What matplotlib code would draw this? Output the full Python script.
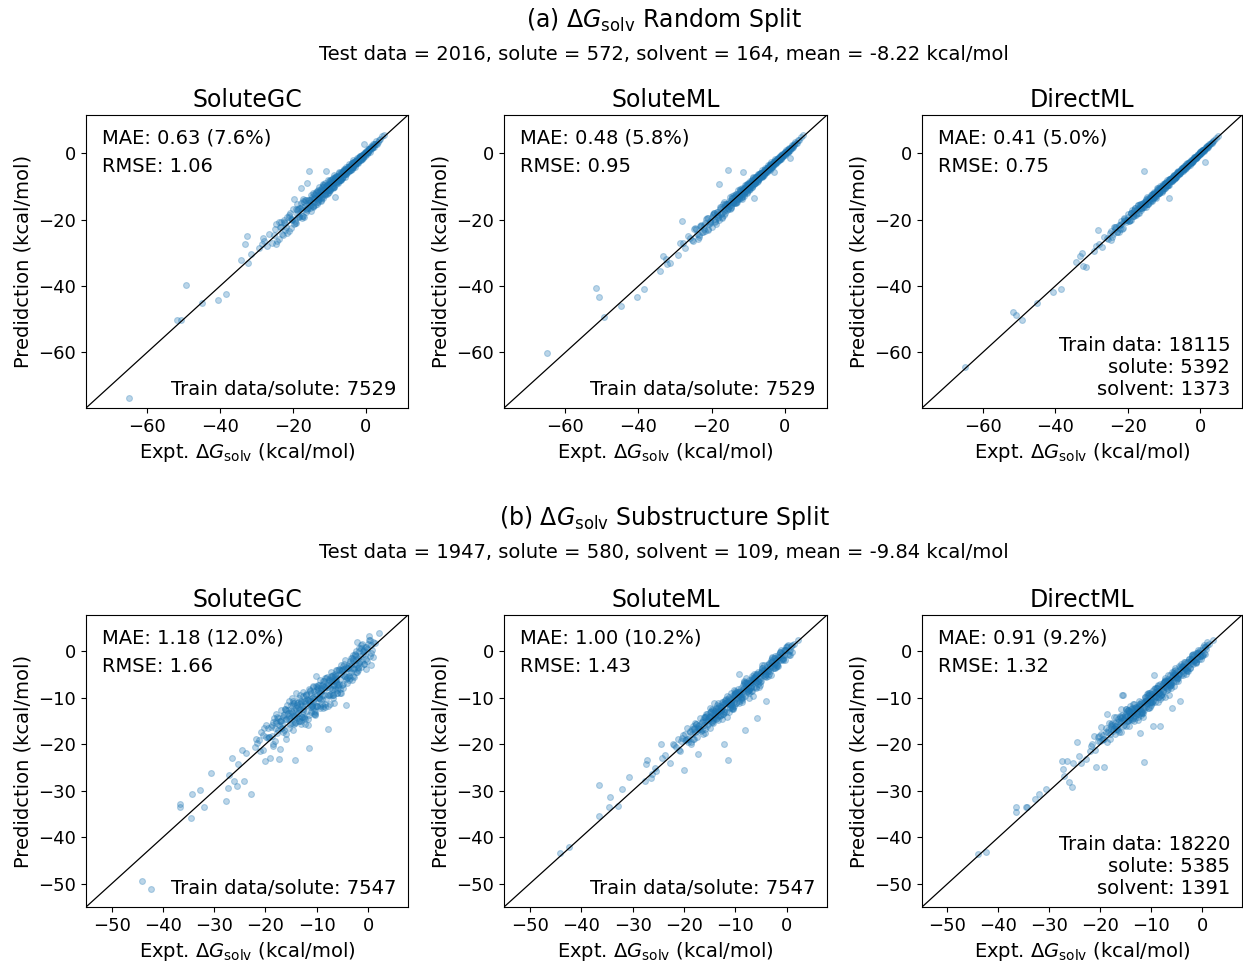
import matplotlib
matplotlib.use("Agg")
import matplotlib.pyplot as plt
from matplotlib.ticker import MultipleLocator

# ---- (a) random split: experimental values shared by the three models ----
expt_random = [
    -64.9, -51.7, -50.8, -49.3, -44.9, -40.5, -38.4, -34.2, -33.2, -32.6, -32.3, -31.4, -29.2, -28.6, -28.2,
    -27.9, -27.2, -26.5, -25.8, -25.3, -24.6, -23.9, -23.2, -22.5, -21.9, -21.1, -20.4,
    -19.8, -19.4, -19.0, -18.6, -18.3, -17.9, -17.5, -17.2, -16.9, -16.5, -16.2, -15.9, -15.6, -15.4, -15.2, -15.1,
    -14.8, -14.6, -14.3, -14.1, -13.9, -13.7, -13.4, -13.2, -13.0, -12.8, -12.6, -12.4, -12.2, -12.0, -11.8, -11.6,
    -11.4, -11.2, -11.0, -10.9, -10.7, -10.5, -10.4, -10.3, -10.1, -10.0,
    -9.9, -9.7, -9.6, -9.4, -9.3, -9.1, -9.0, -8.8, -8.7, -8.5, -8.4, -8.2, -8.1, -7.9, -7.8, -7.6, -7.5, -7.3,
    -7.2, -7.0, -6.9, -6.7, -6.6, -6.4, -6.3, -6.1, -6.0, -5.8, -5.7, -5.6, -5.4, -5.3, -5.2, -5.1,
    -4.9, -4.8, -4.6, -4.5, -4.4, -4.2, -4.1, -4.0, -3.8, -3.7, -3.6, -3.4, -3.3, -3.2, -3.0, -2.9, -2.8,
    -2.6, -2.5, -2.3, -2.2, -2.0, -1.9, -1.7, -1.6, -1.4, -1.3, -1.1, -0.9, -0.8, -0.6, -0.4, -0.3, -0.1,
    0.1, 0.3, 0.5, 0.7, 0.9, 1.1, 1.3, 1.5, 1.8, 2.0, 2.3, 2.6, 2.9, 3.2, 3.6, 4.0, 4.5, 5.1,
    -23.4, -22.8, -22.1, -21.5, -20.9, -20.3, -19.7, -19.1, -18.6, -18.1,
    -17.6, -17.1, -16.7, -16.3, -15.8, -15.3, -14.9, -14.5, -14.2, -13.8,
    -13.5, -13.1, -12.9, -12.5, -12.3, -11.9, -11.7, -11.3, -11.1, -10.8,
    -10.6, -10.2, -9.95, -9.8, -9.5, -9.2, -8.95, -8.6, -8.35, -8.05,
    -7.85, -7.65, -7.4, -7.15, -6.95, -6.75, -6.5, -6.25, -6.05, -5.9,
    -5.65, -5.45, -5.25, -5.0, -4.85, -4.65, -4.35, -4.15, -3.95, -3.75,
    -3.55, -3.35, -3.15, -2.95, -2.75, -2.55, -2.35, -2.15, -1.95, -1.75,
    -1.55, -1.35, -1.15, -0.95, -0.75, -0.55, -0.35, -0.15, 0.0, 0.2,
    0.4, 0.6, 0.8, 1.0, 1.2, 1.4, 1.7, 1.9, 2.1, 2.4,
    -13.0, -12.0, -11.0, -10.5, -9.7, -9.0, -8.8, -8.2, -7.7, -7.1,
    -6.6, -6.2, -5.8, -5.3, -4.7, -4.3, -3.9, -3.4, -3.0, -2.5,
    -2.0, -1.6, -1.2, -0.7, -0.2, 0.3, 0.8, 1.6, 2.7, 3.3,
    -25.0, -24.3, -23.7, -23.0, -22.4, -21.7, -21.2, -20.6, -20.0, -19.5,
    -19.0, -18.4, -17.9, -17.4, -16.9, -16.4, -16.0, -15.5, -15.0, -14.6,
    -14.2, -13.8, -13.4, -13.0, -12.6, -12.2, -11.8, -11.4, -11.0, -10.6,
    -10.2, -9.8, -9.4, -9.0, -8.6, -8.2, -7.8, -7.4, -7.0, -6.6,
    -24.7, -23.5, -22.2, -21.0, -20.3, -19.2, -18.2, -17.2, -16.2, -15.2,
    -14.4, -13.6, -12.8, -12.0, -11.2, -10.4, -9.6, -8.8, -8.0, -7.2,
    -6.3, -5.5, -4.7, -3.9, -3.1, -2.3, -1.5, -0.7, 0.1, 0.9,
    -18.8, -17.6, -16.6, -15.8, -14.8, -13.2, -11.6, -10.0, -8.4, -6.8,
]
pred_random_gc = [
    -73.9, -50.3, -50.3, -39.8, -45.1, -44.2, -42.5, -32.2, -27.4, -24.9, -33.0, -30.4, -28.5, -27.4, -25.4,
    -26.4, -28.0, -24.4, -27.0, -24.7, -21.4, -25.8, -22.2, -20.0, -22.3, -19.3, -22.6,
    -13.8, -20.5, -18.2, -16.7, -19.0, -10.3, -17.1, -18.8, -14.6, -16.8, -9.0, -14.8, -5.4, -16.6, -14.6, -15.6,
    -13.8, -16.0, -12.1, -14.7, -13.6, -12.0, -15.4, -12.4, -13.9, -10.2, -12.5, -13.5, -10.8, -12.3, -10.9, -13.3,
    -9.4, -10.7, -11.8, -5.2, -9.5, -11.8, -10.0, -7.9, -10.6, -9.3,
    -8.8, -10.9, -9.2, -7.6, -9.9, -8.2, -10.5, -8.6, -6.6, -13.0, -7.7, -9.1, -6.8, -8.2, -7.0, -9.0, -7.0, -5.7,
    -7.9, -6.9, -8.0, -5.7, -7.0, -5.8, -7.1, -4.7, -6.2, -5.5, -7.0, -4.8, -5.9, -4.2, -5.3, -4.6,
    -4.1, -5.7, -4.3, -3.3, -4.9, -3.6, -5.1, -3.8, -2.9, -4.1, -2.1, -4.1, -2.9, -3.4, -2.3, -4.0, -2.3,
    -2.9, -1.5, -2.9, -1.9, -2.8, -1.3, -1.9, -0.7, -1.9, -1.1, -1.8, -0.5, -1.1, 0.0, 2.8, -0.7, 0.2,
    0.7, -0.1, 1.4, 0.5, 1.4, 0.5, 1.6, 2.3, 1.5, 2.7, 1.8, 3.0, 3.8, 3.0, 4.1, 4.3, 5.3, 5.7,
    -20.8, -24.6, -20.9, -23.9, -17.9, -19.9, -21.2, -16.9, -19.2, -16.4,
    -19.6, -14.2, -15.9, -17.6, -13.9, -15.7, -12.4, -16.2, -13.3, -12.4,
    -14.6, -11.1, -13.2, -11.3, -14.1, -11.3, -10.1, -12.2, -8.8, -11.3,
    -9.6, -11.6, -9.25, -8.0, -10.3, -8.9, -10.15, -7.3, -7.85, -8.75,
    -6.95, -8.65, -7.0, -6.05, -7.55, -6.55, -7.4, -5.45, -4.85, -6.2,
    -5.05, -6.25, -4.95, -4.0, -5.35, -4.25, -5.05, -3.55, -4.15, -2.85,
    -4.15, -3.05, -2.45, -3.35, -2.25, -2.85, -1.55, -2.65, -1.75, -1.15,
    -1.95, -0.85, -1.35, -0.55, -1.35, -0.25, -0.25, -0.45, 0.5, 0.0,
    0.8, 0.5, 1.4, 1.2, 0.9, 1.9, 1.8, 2.3, 1.9, 2.7,
    -11.5, -13.1, -10.2, -11.1, -8.5, -9.9, -8.3, -7.2, -8.4, -6.7,
    -7.4, -5.3, -6.1, -4.6, -5.2, -3.7, -4.3, -2.6, -3.2, -2.0,
    -2.3, -1.2, -1.7, -0.4, 0.0, 0.1, 1.2, 1.7, 3.0, 3.5,
    -22.8, -26.3, -20.6, -24.4, -20.7, -19.1, -23.5, -19.7, -16.7, -21.1,
    -17.0, -19.3, -14.9, -16.3, -19.1, -14.0, -17.1, -13.9, -17.5, -11.8,
    -13.5, -15.6, -11.2, -13.5, -11.1, -14.3, -9.2, -12.2, -9.7, -12.3,
    -8.2, -11.0, -8.8, -7.3, -10.1, -7.3, -8.5, -6.0, -8.0, -5.8,
    -27.3, -22.1, -23.2, -18.5, -20.0, -21.1, -16.4, -13.8, -16.6, -14.0,
    -16.0, -11.5, -13.6, -10.1, -12.5, -9.8, -8.0, -10.0, -7.6, -8.1,
    -5.2, -6.1, -4.0, -4.8, -2.6, -2.7, -0.9, -1.0, 0.5, 1.1,
    -15.2, -18.9, -13.9, -16.4, -13.0, -14.6, -9.4, -10.9, -7.1, -7.6,
]
pred_random_sml = [
    -60.2, -40.5, -43.2, -49.3, -45.9, -43.2, -41.0, -35.5, -30.9, -31.7, -33.5, -33.0, -30.6, -26.9, -20.4,
    -27.0, -28.6, -24.9, -25.5, -26.2, -22.6, -24.4, -21.9, -23.6, -21.1, -19.6, -21.0,
    -19.3, -18.0, -19.8, -17.7, -18.7, -9.3, -16.3, -18.1, -16.6, -14.7, -16.8, -15.2, -4.9, -16.9, -14.2, -14.9,
    -14.2, -15.6, -12.8, -14.5, -13.0, -13.5, -14.7, -12.1, -13.6, -11.1, -12.8, -13.2, -11.3, -11.7, -12.3, -10.4,
    -5.7, -12.1, -10.6, -9.6, -11.4, -9.7, -11.8, -9.8, -10.4, -9.0,
    -9.2, -10.6, -9.3, -8.2, -9.7, -8.5, -10.1, -8.7, -7.2, -13.3, -7.9, -8.9, -7.2, -8.1, -7.2, -8.6, -7.1, -6.2,
    -7.7, -7.0, -7.7, -6.0, -6.9, -6.0, -6.9, -5.1, -6.1, -5.6, -6.6, -5.0, -5.8, -4.5, -5.3, -4.8,
    -4.4, -5.5, -4.4, -3.6, -4.8, -3.8, -4.9, -3.9, -3.2, -4.0, -2.6, -3.9, -3.0, -3.4, -2.5, -5.7, -2.4,
    -2.8, -1.8, -2.7, -2.0, -2.6, -1.5, -1.8, -1.0, -1.8, -1.1, -1.6, -0.6, -1.0, -0.2, -0.7, -0.1, -0.3,
    0.5, 0.0, 1.1, 0.6, 1.2, 0.7, 1.5, -1.5, 1.6, 2.5, 2.0, 2.9, 3.5, 3.1, 4.0, 4.2, 5.0, 5.5,
    -25.2, -21.5, -22.9, -19.8, -23.0, -20.6, -18.7, -20.6, -18.2, -19.3,
    -16.2, -19.1, -17.3, -15.4, -17.1, -15.0, -16.7, -13.3, -14.8, -14.8,
    -12.7, -14.5, -12.7, -13.3, -11.0, -12.3, -12.8, -10.7, -12.7, -10.4,
    -11.3, -9.2, -10.45, -11.1, -8.9, -9.4, -8.15, -9.5, -8.75, -7.55,
    -8.45, -6.95, -7.7, -7.95, -6.55, -6.85, -5.9, -6.85, -6.85, -5.7,
    -6.05, -4.85, -5.45, -5.7, -4.45, -4.95, -3.85, -4.55, -3.85, -4.35,
    -3.15, -3.55, -3.65, -2.65, -3.15, -2.35, -2.95, -1.75, -2.05, -2.15,
    -1.25, -1.75, -1.05, -1.25, -0.35, -0.75, -0.45, 0.05, -0.4, 0.3,
    0.1, 0.7, 0.4, 0.9, 1.4, 1.0, 1.6, 1.6, 2.2, 2.2,
    -14.0, -11.2, -11.6, -10.1, -10.5, -8.4, -9.2, -8.9, -7.2, -7.4,
    -6.0, -6.8, -5.6, -5.8, -4.3, -4.7, -3.6, -4.0, -2.9, -2.9,
    -1.8, -1.9, -0.8, -0.9, -0.3, 0.4, 0.5, 1.5, 2.5, 3.2,
    -26.5, -22.9, -25.9, -22.0, -23.6, -23.5, -19.6, -21.2, -22.3, -18.4,
    -20.4, -17.8, -20.0, -18.2, -15.4, -18.1, -15.2, -16.6, -13.2, -16.6,
    -14.7, -12.5, -14.9, -12.6, -13.7, -10.7, -13.6, -10.8, -11.9, -9.4,
    -11.6, -9.0, -9.8, -10.2, -7.5, -8.8, -7.3, -8.4, -6.3, -7.2,
    -22.9, -24.5, -21.5, -22.8, -20.5, -17.9, -19.5, -19.6, -15.9, -16.0,
    -13.3, -15.1, -12.2, -13.3, -10.3, -10.8, -10.7, -8.0, -8.3, -6.6,
    -7.1, -5.1, -5.2, -3.3, -3.5, -2.0, -1.9, -0.5, -0.2, 0.8,
    -21.3, -16.7, -18.5, -15.4, -16.1, -12.2, -13.1, -9.4, -9.3, -6.2,
]
pred_random_dml = [
    -64.5, -47.9, -48.6, -50.1, -45.1, -41.8, -41.0, -32.8, -30.9, -29.9, -34.0, -34.3, -29.5, -28.0, -23.1,
    -27.2, -28.1, -25.1, -25.6, -25.9, -23.5, -24.3, -22.3, -23.8, -21.4, -20.3, -20.7,
    -19.2, -20.1, -18.0, -18.4, -18.8, -16.6, -17.0, -18.0, -16.5, -15.6, -16.5, -15.3, -5.4, -16.3, -14.8, -15.3,
    -14.4, -15.3, -13.3, -14.4, -13.3, -13.6, -14.3, -12.5, -13.4, -11.6, -12.7, -13.0, -11.7, -11.8, -12.2, -10.8,
    -11.6, -11.9, -10.7, -10.0, -11.2, -9.9, -11.4, -10.0, -10.3, -9.3,
    -9.4, -10.3, -9.4, -8.6, -9.6, -8.7, -9.8, -8.7, -7.7, -13.5, -8.1, -8.7, -7.5, -8.1, -7.4, -8.3, -7.2, -6.5,
    -7.6, -7.0, -7.5, -6.2, -6.8, -6.1, -6.7, -5.4, -6.1, -5.6, -6.3, -5.2, -5.7, -4.8, -5.3, -4.9,
    -4.5, -5.3, -4.5, -3.9, -4.7, -3.9, -4.7, -3.9, -3.4, -3.9, -2.9, -3.8, -3.1, -3.3, -2.6, -3.5, -2.5,
    -2.8, -2.0, -2.6, -2.0, -2.4, -1.6, -1.8, -1.2, -1.7, -1.2, -1.5, -0.7, -1.0, -0.3, -0.6, -0.2, -0.2,
    0.4, 0.1, 0.9, 0.6, 1.1, 0.8, 1.4, -2.5, 1.7, 2.3, 2.1, 2.8, 3.3, 3.1, 3.9, 4.1, 4.8, 5.4,
    -22.1, -23.7, -21.5, -22.7, -19.4, -20.1, -20.5, -18.0, -18.9, -17.2,
    -18.6, -15.6, -16.3, -17.0, -14.8, -15.5, -13.6, -15.4, -13.7, -13.1,
    -14.1, -12.1, -13.1, -11.9, -13.2, -11.6, -10.9, -11.8, -9.9, -11.1,
    -10.1, -10.9, -9.55, -8.9, -9.9, -9.0, -9.55, -7.9, -8.05, -8.45,
    -7.35, -8.15, -7.2, -6.55, -7.25, -6.65, -7.0, -5.85, -5.45, -6.1,
    -5.35, -5.85, -5.05, -4.5, -5.15, -4.45, -4.75, -3.85, -4.05, -3.25,
    -3.85, -3.15, -2.75, -3.15, -2.45, -2.75, -1.95, -2.45, -1.85, -1.45,
    -1.75, -1.05, -1.25, -0.75, -1.05, -0.35, -0.25, -0.35, 0.3, 0.1,
    0.6, 0.5, 1.1, 1.1, 1.0, 1.7, 1.8, 2.1, 2.0, 2.6,
    -12.2, -12.6, -10.6, -10.8, -9.1, -9.5, -8.5, -7.7, -8.1, -6.9,
    -7.0, -5.7, -6.0, -4.9, -5.0, -4.0, -4.1, -3.0, -3.1, -2.2,
    -2.2, -1.4, -1.5, -0.5, -0.1, 0.2, 1.0, 1.7, 2.9, 3.4,
    -23.9, -25.3, -22.1, -23.7, -21.5, -20.4, -22.4, -20.1, -18.3, -20.3,
    -18.0, -18.9, -16.4, -16.8, -18.0, -15.2, -16.6, -14.7, -16.3, -13.2,
    -13.8, -14.7, -12.3, -13.3, -11.8, -13.3, -10.5, -11.8, -10.3, -11.5,
    -9.2, -10.4, -9.1, -8.1, -9.4, -7.7, -8.2, -6.7, -7.5, -6.2,
    -26.0, -22.8, -22.7, -19.7, -20.1, -20.2, -17.3, -15.5, -16.4, -14.6,
    -15.2, -12.5, -13.2, -11.0, -11.9, -10.1, -8.8, -9.4, -7.8, -7.7,
    -5.7, -5.8, -4.3, -4.4, -2.8, -2.5, -1.2, -0.9, 0.3, 1.0,
    -17.0, -18.3, -15.2, -16.1, -13.9, -13.9, -10.5, -10.5, -7.7, -7.2,
]

# ---- (b) substructure split ----
expt_sub = [
    -44.1, -42.4, -36.6, -36.6, -34.5, -34.3, -32.8, -32.0, -30.7, -27.6, -27.3, -27.1, -26.5, -26.2,
    -25.6, -25.4, -24.5, -24.2, -23.7, -22.8, -22.1,
    -21.6, -21.2, -20.8, -20.4, -20.1, -19.8, -19.5, -19.2, -18.9, -18.7, -18.5, -18.3, -18.1, -18.0,
    -17.8, -17.6, -17.4, -17.2, -17.1, -16.9, -16.7, -16.5, -16.4, -16.2, -16.0, -15.9, -15.7, -15.5,
    -15.4, -15.2, -15.0, -14.9, -14.7, -14.6, -14.5, -14.4, -14.3, -14.2, -14.1, -14.0,
    -13.9, -13.8, -13.6, -13.5, -13.4, -13.3, -13.1, -13.0, -12.9, -12.7, -12.6, -12.5, -12.3, -12.2,
    -12.1, -11.9, -11.8, -11.7, -11.5, -11.4, -11.3, -11.1, -11.0, -10.9, -10.8, -10.7, -10.6, -10.5,
    -10.4, -10.3, -10.2, -10.1, -10.0,
    -9.9, -9.8, -9.6, -9.5, -9.4, -9.3, -9.1, -9.0, -8.9, -8.7, -8.6, -8.5, -8.3, -8.2, -8.1, -7.9,
    -7.8, -7.7, -7.5, -7.4, -7.3, -7.1, -7.0, -6.9, -6.8, -6.7, -6.6, -6.5, -6.4, -6.3, -6.2, -6.1, -6.0,
    -5.9, -5.7, -5.5, -5.3, -5.1, -4.9, -4.7, -4.5, -4.3, -4.1, -3.9, -3.7, -3.5, -3.3, -3.1, -2.9,
    -2.7, -2.6, -2.5, -2.4, -2.3, -2.2, -2.1, -2.0,
    -1.9, -1.7, -1.5, -1.3, -1.1, -0.9, -0.7, -0.5, -0.3, -0.1, 0.1, 0.3, 0.6, 0.9, 1.4, 2.2,
    -21.9, -21.0, -20.5, -19.9, -19.3, -18.8, -18.2, -17.7, -17.3, -16.8,
    -16.3, -15.8, -15.3, -14.8, -14.4, -13.95, -13.55, -13.15, -12.75, -12.35,
    -11.95, -11.55, -11.15, -10.75, -10.35, -9.95, -9.55, -9.15, -8.75, -8.35,
    -7.95, -7.55, -7.15, -6.75, -6.35, -5.95, -5.55, -5.15, -4.75, -4.35,
    -3.95, -3.55, -3.15, -2.75, -2.35, -1.95, -1.55, -1.15, -0.75, -0.35,
    -17.0, -16.0, -15.0, -14.0, -13.0, -12.0, -11.0, -10.0, -9.0, -8.0,
    -7.0, -6.0, -5.0, -4.0, -3.0, -2.0, -1.0, 0.0, 0.5, 1.0,
    -19.6, -18.5, -17.5, -16.5, -15.5, -14.6, -13.7, -12.9, -12.1, -11.3,
    -10.5, -9.7, -8.9, -8.1, -7.3, -6.5, -5.7, -4.9, -4.1, -3.3,
    -15.7, -14.2, -13.3, -12.5, -11.7, -10.9, -10.1, -9.3, -8.5, -7.7,
    -6.9, -6.1, -5.3, -4.5, -3.7, -2.9, -2.1, -1.3, -0.5, 0.2,
    -14.9, -13.4, -12.6, -11.4, -10.6, -9.4, -8.6, -7.4, -6.4, -5.4,
    -20.2, -19.4, -18.6, -17.9, -17.2, -16.6, -16.0, -15.4, -14.9, -14.3,
    -13.8, -13.3, -12.8, -12.3, -11.8, -11.3, -10.8, -10.3, -9.8, -9.3,
    -8.8, -8.3, -7.8, -7.3, -6.8, -6.3, -5.8, -5.3, -4.8, -4.3,
    -3.8, -3.3, -2.8, -2.3, -1.8, -1.3, -0.8, -0.4, 0.4, 0.8,
    -18.0, -17.0, -16.1, -15.2, -14.5, -13.7, -12.9, -12.2, -11.5, -10.7,
    -10.0, -9.2, -8.4, -7.6, -6.9, -6.1, -5.3, -4.5, -3.7, -2.9,
    -15.9, -14.7, -13.4, -12.4, -11.1, -10.2, -9.5, -8.7, -7.9, -7.0,
    -6.2, -5.6, -4.9, -4.1, -3.4, -2.6, -1.7, -1.0, -0.1, 0.6,
]
pred_sub_gc = [
    -49.4, -51.2, -32.9, -33.5, -35.8, -30.6, -29.9, -33.5, -26.1, -32.2, -29.3, -26.6, -22.9, -27.9,
    -29.0, -24.3, -21.2, -27.9, -21.8, -30.6, -20.5,
    -19.8, -19.0, -17.3, -21.3, -23.6, -18.4, -16.4, -23.0, -16.3, -18.2, -20.0, -14.3, -16.4, -15.1,
    -17.6, -14.3, -23.1, -21.1, -15.1, -12.7, -15.6, -13.7, -17.0, -12.5, -14.5, -17.7, -13.3, -14.6,
    -10.8, -15.6, -12.8, -13.9, -17.0, -11.6, -13.9, -12.6, -15.5, -23.4, -8.9, -12.7,
    -11.2, -14.3, -12.0, -10.1, -15.1, -12.5, -11.0, -15.6, -11.7, -8.8, -12.8, -10.6, -15.6, -11.8,
    -9.5, -12.9, -10.4, -15.8, -20.9, -10.7, -8.5, -13.1, -10.0, -11.5, -7.7, -12.1, -10.3, -8.5,
    -13.4, -9.2, -11.0, -5.4, -9.5,
    -11.8, -8.5, -10.0, -7.3, -6.1, -12.1, -8.5, -10.2, -7.2, -12.3, -8.4, -9.4, -5.8, -10.3, -7.2, -16.7,
    -9.3, -6.3, -7.8, -11.3, -5.3, -8.2, -6.3, -9.3, -5.2, -7.3, -11.2, -6.1, -8.2, -4.0, -6.4, -9.0, -5.0,
    -7.2, -3.8, -8.9, -4.8, -7.3, -3.8, -5.4, -1.9, -11.5, -5.7, -3.1, -6.2, -2.0, -3.7, -6.1, -2.0,
    -3.9, -0.6, -2.8, -4.4, -1.0, 2.1, -2.9, -1.4,
    -3.5, 0.1, -2.0, 1.4, -2.2, 0.0, -2.7, 1.0, -3.9, 0.5, 3.2, -1.0, -2.9, 2.1, 1.8, 3.9,
    -18.8, -21.5, -18.1, -15.9, -18.5, -15.9, -19.4, -14.1, -15.9, -16.6,
    -13.6, -11.5, -14.3, -15.4, -11.2, -12.15, -15.05, -10.65, -12.45, -14.55,
    -10.35, -8.15, -11.95, -9.85, -13.05, -7.75, -9.95, -7.85, -11.85, -7.65,
    -5.55, -9.45, -6.65, -10.05, -4.85, -6.95, -8.15, -4.35, -2.65, -6.05,
    -3.55, -5.85, -1.55, -3.65, 0.15, -3.35, -0.95, 1.65, -2.65, 0.85,
    -15.0, -18.8, -11.5, -13.6, -14.9, -9.4, -11.7, -8.1, -11.4, -7.7,
    -5.3, -9.0, -4.1, -5.6, -0.8, -4.1, -0.5, 1.6, -0.3, -1.2,
    -18.6, -15.3, -16.9, -14.2, -16.4, -10.7, -13.2, -14.2, -9.2, -11.5,
    -13.4, -7.9, -9.5, -5.7, -9.3, -5.6, -7.1, -3.2, -6.9, -3.0,
    -12.7, -14.1, -11.3, -14.1, -10.4, -11.8, -7.4, -11.8, -7.7, -6.2,
    -8.1, -4.1, -8.9, -3.9, -4.4, -1.6, -4.5, 0.6, -0.8, 2.4,
    -13.0, -14.4, -9.6, -10.3, -12.8, -9.0, -6.3, -9.2, -5.4, -6.0,
    -16.4, -18.4, -20.4, -13.5, -15.0, -17.3, -12.7, -13.9, -10.1, -15.2,
    -11.5, -9.4, -14.2, -11.2, -14.6, -8.3, -10.6, -13.7, -7.2, -10.3,
    -7.0, -12.0, -7.2, -4.4, -9.3, -6.0, -7.6, -2.9, -8.0, -3.4,
    -5.3, -1.4, -5.5, -1.8, 0.8, -3.3, 0.3, -1.7, 2.4, 0.2,
    -15.5, -16.4, -12.4, -13.3, -15.7, -10.9, -13.4, -10.6, -13.8, -7.4,
    -11.7, -8.4, -11.4, -5.9, -7.3, -8.3, -4.1, -5.3, -2.8, -5.4,
    -14.6, -11.2, -12.5, -14.4, -9.0, -11.7, -9.8, -6.3, -11.7, -6.0,
    -6.9, -4.1, -7.0, -3.7, -4.4, -0.8, -2.6, 0.1, -2.1, 1.3,
]
pred_sub_sml = [
    -43.3, -42.1, -28.8, -35.5, -33.5, -31.3, -33.3, -29.7, -27.0, -27.9, -24.3, -23.3, -27.2, -26.3,
    -25.1, -25.8, -19.9, -23.0, -22.4, -24.1, -20.0,
    -20.6, -18.8, -21.4, -18.7, -25.6, -19.0, -16.6, -19.5, -17.4, -19.9, -17.9, -16.1, -18.9, -16.7,
    -17.4, -15.7, -18.4, -22.0, -16.4, -14.3, -17.2, -15.3, -17.8, -15.9, -14.2, -16.8, -14.8, -13.4,
    -15.6, -14.2, -16.6, -14.4, -13.1, -15.3, -14.3, -13.2, -15.4, -13.4, -11.1, -14.4,
    -12.8, -14.6, -13.1, -11.6, -14.7, -13.1, -11.7, -13.6, -12.0, -14.6, -12.2, -10.9, -20.0, -12.5,
    -11.1, -13.0, -11.2, -14.1, -23.3, -11.1, -9.8, -12.0, -10.3, -11.3, -9.0, -12.2, -10.5, -9.4,
    -12.4, -9.8, -10.9, -9.2, -10.2,
    -11.1, -9.0, -9.9, -8.1, -4.8, -11.1, -8.7, -9.8, -7.9, -11.0, -8.5, -9.1, -6.8, -9.6, -17.0, -7.3,
    -8.8, -6.8, -7.7, -10.0, -6.1, -7.8, -6.6, -8.5, -5.8, -7.1, -9.6, -6.2, -7.6, -4.9, -6.3, -8.0, -5.4,
    -14.3, -4.5, -7.6, -5.0, -6.5, -4.2, -5.1, -3.0, -5.4, -10.7, -3.4, -5.3, -2.6, -3.5, -5.0, -2.3,
    -3.5, -1.4, -2.7, -3.7, -1.5, -1.9, -2.6, -1.6,
    -2.9, -0.8, -1.8, -0.2, -1.8, -0.3, -1.9, 0.3, -1.8, 0.3, 1.1, -0.5, -0.8, 1.4, 1.5, 2.5,
    -20.2, -21.3, -19.2, -17.7, -18.9, -17.2, -18.9, -15.7, -16.5, -16.7,
    -14.8, -13.4, -14.7, -15.1, -12.6, -12.95, -14.35, -11.75, -12.55, -13.55,
    -11.05, -9.65, -11.55, -10.25, -11.85, -8.75, -9.75, -8.45, -10.45, -7.95,
    -6.65, -8.55, -6.85, -8.55, -5.55, -6.55, -6.95, -4.75, -3.55, -5.25,
    -3.75, -4.85, -2.25, -3.25, -0.95, -2.75, -1.25, 0.35, -1.75, 0.35,
    -15.9, -17.5, -13.1, -13.8, -14.0, -10.6, -11.4, -9.0, -10.3, -7.8,
    -6.1, -7.7, -4.5, -4.9, -1.8, -3.2, -0.7, 0.9, 0.1, -0.2,
    -19.0, -16.7, -17.2, -15.2, -16.0, -12.5, -13.4, -13.6, -10.5, -11.4,
    -12.1, -8.7, -9.2, -6.8, -8.4, -6.0, -6.5, -4.0, -5.6, -3.1,
    -14.0, -14.1, -12.2, -13.4, -11.0, -11.4, -8.6, -10.7, -8.1, -6.9,
    -7.6, -5.0, -7.3, -4.2, -4.1, -2.2, -3.4, -0.3, -0.7, 1.4,
    -13.9, -14.0, -10.9, -10.8, -11.8, -9.2, -7.3, -8.4, -5.8, -5.7,
    -18.1, -18.8, -19.6, -15.5, -16.0, -17.0, -14.2, -14.6, -12.3, -14.8,
    -12.5, -11.2, -12.0, -12.9, -10.3, -13.0, -10.9, -8.4, -11.2, -8.7,
    -9.8, -6.3, -8.1, -8.9, -5.4, -6.5, -4.8, -6.6, -3.0, -4.8,
    -3.0, -4.3, -1.3, -2.6, -3.2, -0.2, -1.4, 0.3, -0.7, 1.1,
    -16.6, -16.7, -14.1, -14.2, -15.2, -12.2, -12.6, -13.1, -10.2, -12.5,
    -9.1, -9.6, -6.7, -8.5, -6.7, -4.9, -6.0, -4.1, -4.2, -1.5,
    -15.2, -12.8, -12.9, -11.3, -12.3, -9.4, -9.3, -10.0, -5.8, -7.6,
    -5.8, -6.4, -3.7, -4.3, -2.8, -3.6, -1.2, -1.6, 1.0, 0.2,
]
pred_sub_dml = [
    -43.7, -43.2, -33.4, -34.5, -33.4, -33.4, -31.7, -30.6, -29.6, -23.6, -25.4, -26.8, -23.5, -28.1,
    -29.1, -24.0, -19.5, -22.6, -24.1, -23.2, -21.5,
    -20.0, -18.2, -24.8, -18.4, -19.4, -16.2, -18.1, -24.8, -16.4, -13.4, -17.4, -15.4, -17.8, -16.1,
    -15.4, -16.7, -14.2, -17.9, -15.5, -14.1, -16.3, -14.6, -17.4, -13.9, -15.0, -12.4, -9.3, -9.5,
    -15.9, -13.7, -12.4, -16.1, -13.9, -12.6, -14.8, -13.1, -16.1, -13.6, -11.7, -14.6,
    -12.5, -14.7, -12.9, -11.4, -14.9, -13.0, -11.9, -13.7, -12.1, -14.8, -12.1, -10.8, -17.6, -12.4,
    -11.0, -13.1, -11.2, -14.2, -23.9, -11.0, -9.9, -11.9, -10.4, -11.2, -9.2, -12.1, -10.4, -9.5,
    -12.3, -9.8, -10.8, -9.2, -10.3,
    -11.0, -9.1, -16.1, -8.2, -5.2, -11.0, -8.7, -9.7, -8.0, -10.9, -8.5, -9.0, -7.0, -16.1, -9.4, -7.3,
    -8.7, -6.9, -7.7, -9.8, -6.2, -7.7, -6.6, -8.4, -5.9, -7.1, -9.4, -6.2, -7.5, -5.1, -6.3, -7.9, -5.5,
    -12.2, -4.7, -7.4, -5.0, -6.3, -4.3, -5.0, -3.2, -10.7, -5.1, -3.4, -5.1, -2.7, -3.5, -4.8, -2.4,
    -3.4, -1.6, -2.7, -3.5, -1.6, -2.0, -2.5, -1.7,
    -2.8, -0.9, -1.8, -0.3, -1.7, -0.4, -1.7, 0.2, -1.6, 0.3, 1.0, -0.4, -0.6, 1.3, 1.5, 2.5,
    -20.3, -21.3, -19.3, -17.9, -18.9, -17.3, -18.8, -15.9, -16.6, -16.7,
    -14.9, -13.6, -14.8, -15.1, -12.8, -13.05, -14.35, -14.45, -12.95, -11.25,
    -12.75, -13.25, -10.75, -11.25, -8.95, -11.05, -9.35, -9.85, -7.15, -8.75,
    -9.15, -6.55, -7.45, -5.05, -7.15, -5.45, -4.25, -5.55, -5.85, -3.45,
    -4.15, -2.35, -3.95, -2.25, -3.65, -1.25, -1.85, -2.55, 0.25, -0.95,
    -16.0, -17.4, -13.2, -13.8, -12.0, -13.3, -10.6, -11.0, -7.8, -8.2,
    -7.9, -4.5, -5.5, -3.2, -4.1, -0.9, -1.3, -0.8, 0.9, 2.1,
    -19.1, -16.9, -17.2, -15.3, -16.0, -12.6, -13.4, -12.2, -13.6, -11.2,
    -9.0, -10.6, -8.6, -9.3, -6.3, -7.0, -5.0, -5.8, -2.7, -3.5,
    -14.2, -14.1, -12.3, -11.7, -12.4, -10.4, -11.5, -8.0, -8.9, -8.5,
    -6.3, -7.1, -3.5, -4.8, -3.3, -3.6, -0.9, -2.3, -0.3, -0.9,
    -13.9, -13.9, -14.1, -12.0, -9.5, -9.6, -9.8, -6.5, -6.9, -5.1,
    -18.3, -18.9, -19.5, -15.7, -16.1, -17.0, -14.3, -14.6, -12.5, -14.8,
    -12.6, -11.3, -13.5, -11.7, -13.2, -9.8, -10.7, -12.0, -8.5, -9.8,
    -7.9, -10.2, -7.5, -5.8, -8.1, -6.1, -6.7, -4.1, -6.4, -3.8,
    -4.6, -2.3, -4.2, -2.0, -0.5, -2.3, -0.2, -1.1, 1.4, 0.5,
    -16.7, -16.7, -14.2, -14.2, -15.1, -12.3, -13.2, -11.4, -12.7, -9.0,
    -10.9, -8.8, -9.9, -6.7, -7.1, -7.2, -4.7, -4.9, -3.2, -4.2,
    -15.2, -12.9, -12.9, -13.4, -10.0, -11.0, -9.7, -7.5, -9.8, -6.5,
    -6.6, -4.8, -6.0, -3.9, -3.9, -1.7, -2.2, -0.4, -1.1, 1.0,
]

models = ["SoluteGC", "SoluteML", "DirectML"]
mae_random = ["0.63 (7.6%)", "0.48 (5.8%)", "0.41 (5.0%)"]
rmse_random = ["1.06", "0.95", "0.75"]
train_random = ["Train data/solute: 7529", "Train data/solute: 7529",
                "Train data: 18115\nsolute: 5392\nsolvent: 1373"]
mae_sub = ["1.18 (12.0%)", "1.00 (10.2%)", "0.91 (9.2%)"]
rmse_sub = ["1.66", "1.43", "1.32"]
train_sub = ["Train data/solute: 7547", "Train data/solute: 7547",
             "Train data: 18220\nsolute: 5385\nsolvent: 1391"]

rows = [
    dict(expt=expt_random, preds=[pred_random_gc, pred_random_sml, pred_random_dml],
         mae=mae_random, rmse=rmse_random, train=train_random,
         lims=(-76.8, 11.6), step=20,
         title=r"(a) $\Delta G_{\mathrm{solv}}$ Random Split",
         sub="Test data = 2016, solute = 572, solvent = 164, mean = -8.22 kcal/mol"),
    dict(expt=expt_sub, preds=[pred_sub_gc, pred_sub_sml, pred_sub_dml],
         mae=mae_sub, rmse=rmse_sub, train=train_sub,
         lims=(-55.0, 7.8), step=10,
         title=r"(b) $\Delta G_{\mathrm{solv}}$ Substructure Split",
         sub="Test data = 1947, solute = 580, solvent = 109, mean = -9.84 kcal/mol"),
]

W, H = 1243, 961
fig = plt.figure(figsize=(W / 100, H / 100), dpi=100)

col_x = [(86, 408), (504, 827), (922, 1242)]
row_y = [(115, 408), (615, 907)]
head_y = [(20, 55), (518, 553)]

for r, row in enumerate(rows):
    for p in row["preds"]:
        assert len(p) == len(row["expt"]), (r, len(p), len(row["expt"]))
    y0, y1 = row_y[r]
    fig.text(664 / W, 1 - head_y[r][0] / H, row["title"], ha="center", va="center", fontsize=17)
    fig.text(664 / W, 1 - head_y[r][1] / H, row["sub"], ha="center", va="center", fontsize=14)
    lo, hi = row["lims"]
    for c in range(3):
        x0, x1 = col_x[c]
        ax = fig.add_axes([x0 / W, 1 - y1 / H, (x1 - x0) / W, (y1 - y0) / H])
        ax.scatter(row["expt"], row["preds"][c], s=18, color="#1f77b4", alpha=0.3, linewidths=0.8)
        ax.plot([lo, hi], [lo, hi], color="k", lw=0.9)
        ax.set_xlim(lo, hi)
        ax.set_ylim(lo, hi)
        ax.xaxis.set_major_locator(MultipleLocator(row["step"]))
        ax.yaxis.set_major_locator(MultipleLocator(row["step"]))
        ax.tick_params(labelsize=13)
        ax.set_title(models[c], fontsize=17)
        ax.set_xlabel(r"Expt. $\Delta G_{\mathrm{solv}}$ (kcal/mol)", fontsize=14)
        ax.set_ylabel("Predidction (kcal/mol)", fontsize=14)
        ax.text(0.05, 0.921, "MAE: " + row["mae"][c], transform=ax.transAxes,
                ha="left", va="center", fontsize=14)
        ax.text(0.05, 0.823, "RMSE: " + row["rmse"][c], transform=ax.transAxes,
                ha="left", va="center", fontsize=14)
        ax.text(0.963, 0.03, row["train"][c], transform=ax.transAxes,
                ha="right", va="bottom", multialignment="right", fontsize=14)

fig.savefig("out.png", dpi=100)
